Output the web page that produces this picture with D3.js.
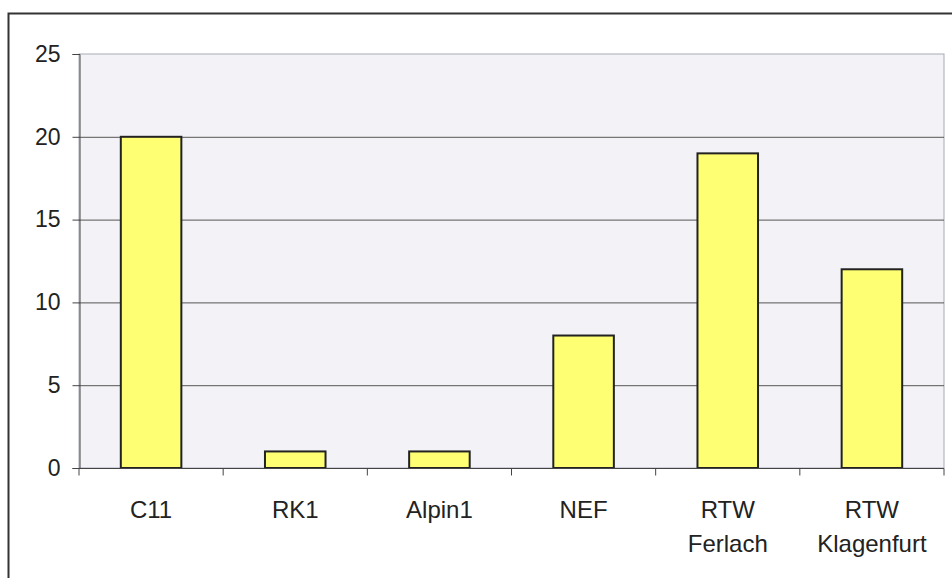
<!DOCTYPE html>
<html>
<head>
<meta charset="utf-8">
<script src="https://cdn.jsdelivr.net/npm/d3@7"></script>
<style>
  body { margin: 0; background: #fff; }
  text { font-family: "Liberation Sans", Arial, sans-serif; }
</style>
</head>
<body>
<div id="chart"></div>
<script>
// chart data
const categories = ["C11", "RK1", "Alpin1", "NEF", "RTW\nFerlach", "RTW\nKlagenfurt"];
const values = [20, 1, 1, 8, 19, 12];
const yTicks = [0, 5, 10, 15, 20, 25];

const width = 952;
const height = 578;
const margin = { top: 54, right: 8, bottom: 110, left: 79 };

const svg = d3.select("#chart")
    .append("svg")
    .attr("width", width)
    .attr("height", height);

// outer frame (runs past the right and bottom edge)
svg.append("rect")
    .attr("x", 8.5)
    .attr("y", 13.5)
    .attr("width", 980)
    .attr("height", 640)
    .attr("fill", "none")
    .attr("stroke", "#333")
    .attr("stroke-width", 2);

const x = d3.scaleBand()
    .domain(categories)
    .range([margin.left, width - margin.right])
    .paddingInner(0.58)
    .paddingOuter(0.29);

const y = d3.scaleLinear()
    .domain([0, 25])
    .range([height - margin.bottom, margin.top]);

// plot area background
svg.append("rect")
    .attr("x", margin.left)
    .attr("y", y(25))
    .attr("width", width - margin.right - margin.left)
    .attr("height", y(0) - y(25))
    .attr("fill", "#f3f3f7")
    .attr("stroke", "#a9a9b8")
    .attr("stroke-width", 1);

// gridlines
svg.append("g")
    .selectAll("line")
    .data(yTicks.filter(d => d > 0 && d < 25))
    .enter().append("line")
    .attr("x1", margin.left)
    .attr("x2", width - margin.right)
    .attr("y1", d => y(d) + 0.5)
    .attr("y2", d => y(d) + 0.5)
    .attr("stroke", "#555")
    .attr("stroke-width", 1);

// bars
svg.append("g")
    .selectAll("rect")
    .data(values)
    .enter().append("rect")
    .attr("x", (d, i) => x(categories[i]))
    .attr("y", d => y(d))
    .attr("width", x.bandwidth())
    .attr("height", d => y(0) - y(d))
    .attr("fill", "#ffff73")
    .attr("stroke", "#222")
    .attr("stroke-width", 2);

// y axis
const yAxis = svg.append("g")
    .attr("transform", `translate(${margin.left + 0.5},0)`)
    .call(d3.axisLeft(y).tickValues(yTicks).tickSize(7).tickPadding(12));
yAxis.attr("font-size", null).attr("font-family", null);
yAxis.select(".domain").attr("stroke", "#444");
yAxis.selectAll(".tick line").attr("stroke", "#444");
yAxis.selectAll("text")
    .style("font-size", "23px")
    .attr("fill", "#222");

// x axis with ticks on category boundaries
const xAxisG = svg.append("g")
    .attr("transform", `translate(0,${y(0) + 0.5})`);
xAxisG.append("line")
    .attr("x1", margin.left)
    .attr("x2", width - margin.right)
    .attr("stroke", "#444");
const step = x.step();
const boundaries = d3.range(categories.length + 1).map(i => margin.left + i * step);
xAxisG.selectAll(".bt")
    .data(boundaries)
    .enter().append("line")
    .attr("class", "bt")
    .attr("x1", d => d)
    .attr("x2", d => d)
    .attr("y1", 0)
    .attr("y2", 7)
    .attr("stroke", "#444");

const labels = xAxisG.selectAll(".lbl")
    .data(categories)
    .enter().append("text")
    .attr("class", "lbl")
    .attr("text-anchor", "middle")
    .style("font-size", "24px")
    .attr("fill", "#222")
    .attr("x", d => x(d) + x.bandwidth() / 2)
    .attr("y", 49);
labels.selectAll("tspan")
    .data(d => d.split("\n"))
    .enter().append("tspan")
    .attr("x", function() { return this.parentNode.getAttribute("x"); })
    .attr("dy", (d, i) => i === 0 ? 0 : 34)
    .text(d => d);
</script>
</body>
</html>
